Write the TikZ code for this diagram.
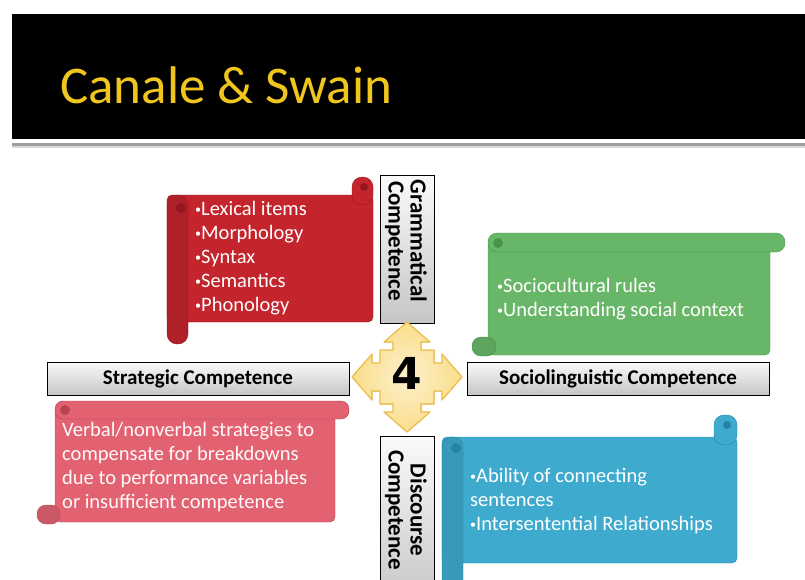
\documentclass[tikz,border=0pt]{standalone}
\usepackage{fontspec}
\setmainfont{Carlito}
\newfontfamily\digitfont{DejaVu Sans}
\newcommand{\bul}{{\fontsize{12}{12}\selectfont\raisebox{1.5pt}{•}}}
\definecolor{titleyellow}{RGB}{240,198,30}
\definecolor{redscroll}{RGB}{196,36,44}
\definecolor{redline}{RGB}{150,24,30}
\definecolor{greenscroll}{RGB}{104,182,104}
\definecolor{greenline}{RGB}{72,148,72}
\definecolor{pinkscroll}{RGB}{226,98,114}
\definecolor{pinkline}{RGB}{186,66,82}
\definecolor{bluescroll}{RGB}{62,170,206}
\definecolor{blueline}{RGB}{36,132,168}
\definecolor{arrowfill}{RGB}{250,222,140}
\definecolor{arrowline}{RGB}{236,188,70}
\tikzset{
  labelbox/.style={draw=black,line width=0.8pt,top color=white!96!gray,bottom color=gray!45,inner sep=0},
  labeltext/.style={font=\bfseries\fontsize{21}{22}\selectfont,inner sep=0},
  vlabeltext/.style={font=\bfseries\fontsize{23}{22}\selectfont,align=center,rotate=-90,inner sep=0},
  scrolltext/.style={text=white,font=\fontsize{20.5}{24}\selectfont,align=left,anchor=west,inner sep=0},
}
\begin{document}
\begin{tikzpicture}[x=1pt,y=-1pt]
\clip (0,0) rectangle (805,579);
\fill[white] (0,0) rectangle (805,579);
% title bar
\fill[black] (12,14) rectangle (805,139);
\fill[gray!75] (12,143) rectangle (805,146);
\fill[gray!30] (12,146) rectangle (805,148);
\node[anchor=base west,inner sep=0,text=titleyellow,font=\fontsize{53}{60}\selectfont] (title) at (60,103) {Canale \& Swain};

% red scroll
\filldraw[fill=redscroll,draw=redline,rounded corners=5] (167,195) rectangle (373,322);
\filldraw[fill=redscroll,draw=redline,rounded corners=10] (352,177) rectangle (373,205);
\filldraw[fill=redscroll!90!black,draw=redline,rounded corners=10] (167,195) rectangle (188,344);
\fill[redline] (181,208) circle (5);
\fill[redline] (364,187) circle (4);
\node[scrolltext] (gramlist) at (195,258) {\bul Lexical items\\\bul Morphology\\\bul Syntax\\\bul Semantics\\\bul Phonology};

% green scroll
\filldraw[fill=greenscroll,draw=greenline,rounded corners=5] (488,240) rectangle (770,355);
\filldraw[fill=greenscroll,draw=greenline,rounded corners=9] (488,233) rectangle (785,252);
\filldraw[fill=greenscroll!90!black,draw=greenline,rounded corners=9] (472,337) rectangle (496,356);
\fill[greenline] (498,243) circle (5);
\node[scrolltext] (socioList) at (497,299) {\bul Sociocultural rules\\\bul Understanding social context};

% pink scroll
\filldraw[fill=pinkscroll,draw=pinkline,rounded corners=5] (55,408) rectangle (335,522);
\filldraw[fill=pinkscroll,draw=pinkline,rounded corners=8] (55,401) rectangle (349,419);
\filldraw[fill=pinkscroll!90!black,draw=pinkline,rounded corners=9] (37,505) rectangle (60,524);
\fill[pinkline] (65,410) circle (5);
\node[scrolltext,text=white!92!pink] (stratlist) at (62,467) {Verbal/nonverbal strategies to\\compensate for breakdowns\\due to performance variables\\or insufficient competence};

% blue scroll
\filldraw[fill=bluescroll,draw=blueline,rounded corners=5] (442,437) rectangle (737,563);
\filldraw[fill=bluescroll,draw=blueline,rounded corners=10] (714,415) rectangle (737,445);
\filldraw[fill=bluescroll!90!black,draw=blueline,rounded corners=10] (442,437) rectangle (463,600);
\fill[blueline] (456,448) circle (5);
\fill[blueline] (727,425) circle (4);
\node[scrolltext] (disclist) at (470,501) {\bul Ability of connecting\\sentences\\\bul Intersentential Relationships};

% label boxes
\node[labelbox,minimum width=54,minimum height=148] (gram) at (407,249) {};
\node[vlabeltext] (gramtext) at (406,241) {Grammatical\\Competence};
\node[labelbox,minimum width=54,minimum height=170] (disc) at (407,521) {};
\node[vlabeltext] (disctext) at (406,510) {Discourse\\Competence};
\node[labelbox,minimum width=302,minimum height=33] (strat) at (198,378.5) {};
\node[labeltext] (strattext) at (198,379) {Strategic Competence};
\node[labelbox,minimum width=302,minimum height=33] (socio) at (618,378.5) {};
\node[labeltext] (sociotext) at (618,379) {Sociolinguistic Competence};

% centre arrow
\begin{scope}[shift={(407,377)}]
\filldraw[inner color=arrowfill!45!white,outer color=arrowfill,draw=arrowline,line width=1.2pt,line join=round]
  (0,-55) -- (23,-35) -- (14,-35) -- (14,-27) -- (27,-27) -- (27,-14) -- (35,-14) -- (35,-23)
  -- (55,0) -- (35,23) -- (35,14) -- (27,14) -- (27,27) -- (14,27) -- (14,35) -- (23,35)
  -- (0,55) -- (-23,35) -- (-14,35) -- (-14,27) -- (-27,27) -- (-27,14) -- (-35,14) -- (-35,23)
  -- (-55,0) -- (-35,-23) -- (-35,-14) -- (-27,-14) -- (-27,-27) -- (-14,-27) -- (-14,-35) -- (-23,-35) -- cycle;
\end{scope}
\node[font=\digitfont\bfseries\fontsize{44}{46}\selectfont,inner sep=0] (four) at (407,373) {4};
\end{tikzpicture}
\end{document}
